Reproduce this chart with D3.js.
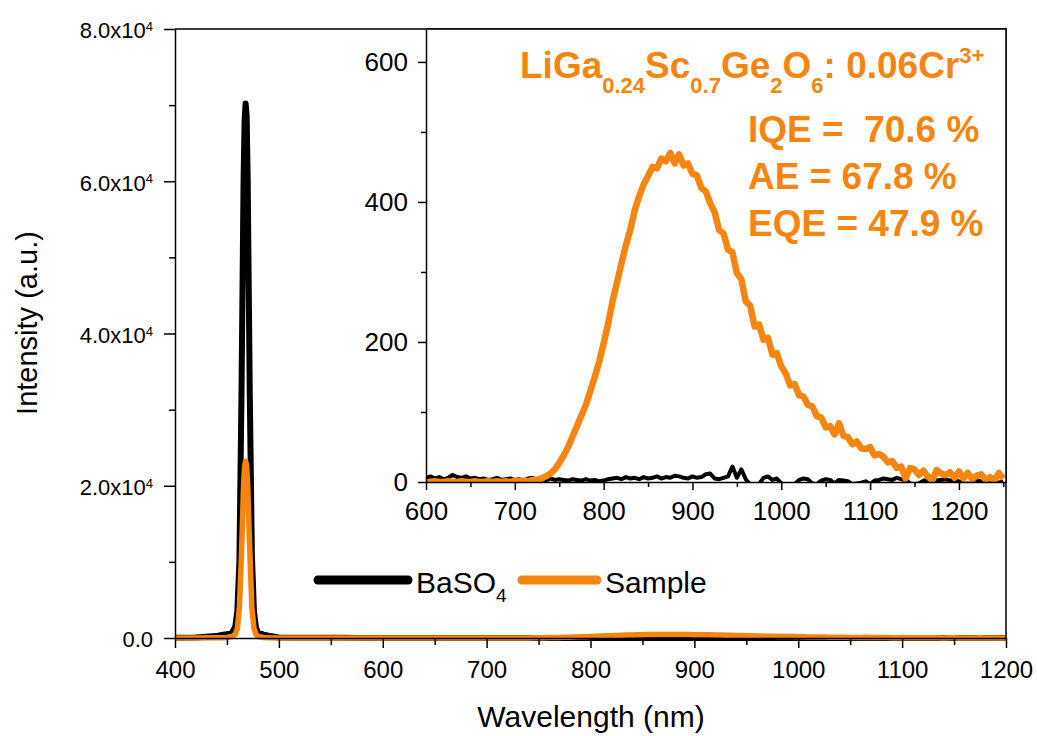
<!DOCTYPE html>
<html>
<head>
<meta charset="utf-8">
<script src="https://d3js.org/d3.v7.min.js"></script>
<style>
  body { margin: 0; background: #fff; }
  svg { display: block; font-family: Arial, "Liberation Sans", sans-serif; }
  .axis path, .axis line { stroke: #000; stroke-width: 1.5; }
</style>
</head>
<body>
<svg width="1037" height="736"></svg>
<script>

// excitation region (BaSO4 reference peak and what the sample leaves of it)
var excWl     = [400, 420, 440, 445, 450, 455, 458, 460, 462, 464, 466, 467, 468, 469, 470, 472, 474, 476, 478, 480, 485, 490, 500, 520, 560, 580];
var excBaso4  = [30, 60, 250, 400, 500, 700, 1500, 3500, 10000, 32000, 60000, 68000, 70200, 68500, 60000, 32000, 11000, 3500, 1300, 700, 450, 300, 60, 30, 20, 10];
var excSample = [0, 0, 20, 40, 80, 200, 500, 1200, 4000, 11000, 20000, 22500, 23200, 22600, 20000, 11500, 4000, 1300, 450, 200, 60, 30, 10, 5, 3, 0];

// emission region, 600-1250 nm every 5 nm
var emWl = [600, 605, 610, 615, 620, 625, 630, 635, 640, 645, 650, 655, 660, 665, 670, 675, 680, 685, 690, 695,
            700, 705, 710, 715, 720, 725, 730, 735, 740, 745, 750, 755, 760, 765, 770, 775, 780, 785, 790, 795,
            800, 805, 810, 815, 820, 825, 830, 835, 840, 845, 850, 855, 860, 865, 870, 875, 880, 885, 890, 895,
            900, 905, 910, 915, 920, 925, 930, 935, 940, 945, 950, 955, 960, 965, 970, 975, 980, 985, 990, 995,
            1000, 1005, 1010, 1015, 1020, 1025, 1030, 1035, 1040, 1045, 1050, 1055, 1060, 1065, 1070, 1075, 1080, 1085, 1090, 1095,
            1100, 1105, 1110, 1115, 1120, 1125, 1130, 1135, 1140, 1145, 1150, 1155, 1160, 1165, 1170, 1175, 1180, 1185, 1190, 1195,
            1200, 1205, 1210, 1215, 1220, 1225, 1230, 1235, 1240, 1245, 1250];
var emSample = [0, 0, 1, 0, 0, 1, 0, 0, 1, 0, 0, 1, 0, 0, 1, 0, 1, 0, 1, 0,
                2, 1, 2, 1, 3, 3, 5, 8, 12, 18, 27, 38, 50, 65, 80, 95, 110, 130, 150, 172,
                198, 226, 258, 285, 312, 338, 360, 388, 408, 425, 437, 450, 448, 462, 458, 470, 455, 468, 452, 455,
                440, 438, 420, 415, 398, 385, 360, 355, 332, 328, 298, 290, 258, 252, 222, 225, 203, 206, 182, 184,
                165, 155, 138, 140, 124, 122, 110, 108, 94, 92, 78, 80, 68, 84, 66, 64, 54, 58, 48, 47,
                50, 38, 40, 36, 28, 30, 20, 22, 5, 20, 18, 10, 16, 8, 2, 17, 12, 10, 14, 6,
                15, 5, 13, 4, 9, 11, 3, 7, 2, 13, 5];
var emBaso4  = [6, 8, 5, 7, 4, 6, 10, 7, 6, 8, 5, 6, 4, 5, 3, 4, 6, 3, 4, 5,
                3, 4, 2, 5, 6, 3, 4, 2, 5, 3, 4, 3, 2, 4, 3, 2, 4, 2, 3, 1,
                2, 4, 5, 6, 4, 7, 5, 6, 4, 7, 5, 6, 8, 5, 7, 6, 9, 8, 6, 5,
                8, 6, 7, 11, 12, 5, 4, 6, 8, 22, 6, 18, 4, -4, -6, -3, 6, 8, 3, 5,
                -2, -4, -5, -3, 3, 5, 4, -2, -3, 2, 4, 3, -2, 3, 2, 1, -3, -2, -1, 1,
                -3, 2, 3, 5, 4, 3, 6, 4, 3, -2, -3, -2, 2, 3, 4, 2, 3, 4, 2, 3,
                1, -3, -2, -3, 2, 1, -2, 1, 2, -1, 1];

var seriesNames  = ["BaSO", "Sample"];
var seriesColors = ["#000000", "#f5850f"];

var mainXTicks  = [400, 500, 600, 700, 800, 900, 1000, 1100, 1200];
var mainYTicks  = [0, 20000, 40000, 60000, 80000];
var insetXTicks = [600, 700, 800, 900, 1000, 1100, 1200];
var insetYTicks = [0, 200, 400, 600];

var annotLines = ["IQE =  70.6 %", "AE = 67.8 %", "EQE = 47.9 %"];

function toPoints(wl, vals) {
    return wl.map(function(w, i) { return {w: w, v: vals[i]}; });
}
var baso4 = toPoints(excWl, excBaso4).concat(toPoints(emWl, emBaso4));
var sample = toPoints(excWl, excSample).concat(toPoints(emWl, emSample));
var series = [baso4, sample];

var svg = d3.select("svg");

// ---------- main panel ----------
var x = d3.scaleLinear().domain([400, 1200]).range([175, 1006]);
var y = d3.scaleLinear().domain([0, 80000]).range([638, 29]);

svg.append("clipPath").attr("id", "mainClip")
    .append("rect").attr("x", 175).attr("y", 0).attr("width", 831).attr("height", 700);

var mainLine = d3.line().x(function(d) { return x(d.w); }).y(function(d) { return y(d.v); });
var mainG = svg.append("g").attr("clip-path", "url(#mainClip)");
mainG.selectAll("path.main")
    .data(series)
    .enter().append("path")
    .attr("d", mainLine)
    .attr("fill", "none")
    .attr("stroke", function(d, i) { return seriesColors[i]; })
    .attr("stroke-width", function(d, i) { return i == 0 ? 6 : 5.5; })
    .attr("stroke-linejoin", "round")
    .attr("stroke-linecap", "round");

// minor ticks
svg.append("g").attr("class", "axis")
    .attr("transform", "translate(0,638)")
    .call(d3.axisBottom(x).tickValues(d3.range(450, 1200, 100)).tickFormat("").tickSize(7).tickSizeOuter(0))
    .select(".domain").remove();
svg.append("g").attr("class", "axis")
    .attr("transform", "translate(175,0)")
    .call(d3.axisLeft(y).tickValues(d3.range(10000, 80000, 20000)).tickFormat("").tickSize(6).tickSizeOuter(0))
    .select(".domain").remove();

var xAxisG = svg.append("g").attr("class", "axis")
    .attr("transform", "translate(0,638)")
    .call(d3.axisBottom(x).tickValues(mainXTicks).tickFormat(d3.format("d")).tickSize(10).tickPadding(13).tickSizeOuter(0));
xAxisG.selectAll("text").style("font-size", "24px").attr("fill", "#000");

var yAxisG = svg.append("g").attr("class", "axis")
    .attr("transform", "translate(175,0)")
    .call(d3.axisLeft(y).tickValues(mainYTicks).tickSize(11).tickPadding(11).tickSizeOuter(0).tickFormat(""));
yAxisG.selectAll(".tick text")
    .style("font-size", "22px").attr("fill", "#000").attr("dy", "0.4em")
    .each(function(d) {
        var t = d3.select(this);
        if (d == 0) { t.text("0.0"); return; }
        t.append("tspan").text((d / 10000).toFixed(1) + "x10");
        t.append("tspan").attr("dy", "-0.55em").style("font-size", "13px").text("4");
    });

// frame
svg.append("path")
    .attr("d", "M175,29H1006V638")
    .attr("fill", "none").attr("stroke", "#000").attr("stroke-width", 1.5);

svg.append("text")
    .attr("transform", "translate(37,323) rotate(-90)")
    .attr("text-anchor", "middle")
    .style("font-size", "29px")
    .text("Intensity (a.u.)");

svg.append("text")
    .attr("x", 591).attr("y", 727)
    .attr("text-anchor", "middle")
    .style("font-size", "30px")
    .text("Wavelength (nm)");

// legend
var legendX = [318, 522];
var legendLen = [90, 75];
var legendTextX = [416, 605];
seriesNames.forEach(function(name, i) {
    svg.append("line")
        .attr("x1", legendX[i]).attr("x2", legendX[i] + legendLen[i])
        .attr("y1", 580).attr("y2", 580)
        .attr("stroke", seriesColors[i]).attr("stroke-width", 9).attr("stroke-linecap", "round");
    var t = svg.append("text").attr("x", legendTextX[i]).attr("y", 593).style("font-size", "30px");
    t.append("tspan").text(name);
    if (i == 0) t.append("tspan").attr("dy", 9).style("font-size", "19px").text("4");
});

// ---------- inset ----------
var xi = d3.scaleLinear().domain([600, 1253]).range([426, 1006]);
var yi = d3.scaleLinear().domain([0, 647]).range([482, 29]);

svg.append("clipPath").attr("id", "insetClip")
    .append("rect").attr("x", 426).attr("y", 29).attr("width", 580).attr("height", 453);

var insetLine = d3.line().x(function(d) { return xi(d.w); }).y(function(d) { return yi(d.v); });
var insetG = svg.append("g").attr("clip-path", "url(#insetClip)");
insetG.append("rect").attr("x", 426).attr("y", 29).attr("width", 580).attr("height", 453).attr("fill", "#fff");
insetG.selectAll("path.inset")
    .data(series)
    .enter().append("path")
    .attr("d", insetLine)
    .attr("fill", "none")
    .attr("stroke", function(d, i) { return seriesColors[i]; })
    .attr("stroke-width", function(d, i) { return i == 0 ? 4 : 6.5; })
    .attr("stroke-linejoin", "round");

svg.append("g").attr("class", "axis")
    .attr("transform", "translate(0,482)")
    .call(d3.axisBottom(xi).tickValues(d3.range(650, 1253, 100)).tickFormat("").tickSize(5).tickSizeOuter(0))
    .select(".domain").remove();
svg.append("g").attr("class", "axis")
    .attr("transform", "translate(426,0)")
    .call(d3.axisLeft(yi).tickValues(d3.range(100, 647, 200)).tickFormat("").tickSize(5).tickSizeOuter(0))
    .select(".domain").remove();

svg.append("g").attr("class", "axis")
    .attr("transform", "translate(0,482)")
    .call(d3.axisBottom(xi).tickValues(insetXTicks).tickFormat(d3.format("d")).tickSize(8).tickPadding(12).tickSizeOuter(0))
    .selectAll("text").style("font-size", "26px").attr("fill", "#000");
svg.append("g").attr("class", "axis")
    .attr("transform", "translate(426,0)")
    .call(d3.axisLeft(yi).tickValues(insetYTicks).tickSize(8).tickPadding(10).tickSizeOuter(0))
    .selectAll("text").style("font-size", "26px").attr("fill", "#000");

svg.append("path")
    .attr("d", "M426,29H1006V482")
    .attr("fill", "none").attr("stroke", "#000").attr("stroke-width", 1.5);

// annotation
var orange = seriesColors[1];
var formula = svg.append("text")
    .attr("x", 520).attr("y", 78)
    .attr("fill", orange)
    .style("font-size", "37px").style("font-weight", "bold");
var parts = [["LiGa", 0], ["0.24", 1], ["Sc", 0], ["0.7", 1], ["Ge", 0], ["2", 1], ["O", 0], ["6", 1], [": 0.06Cr", 0], ["3+", -1]];
var shift = 0;
parts.forEach(function(p) {
    var target = p[1] * 15;
    var ts = formula.append("tspan").attr("dy", target - shift).text(p[0]);
    if (p[1] != 0) ts.style("font-size", "22px");
    shift = target;
});

svg.selectAll("text.stat")
    .data(annotLines)
    .enter().append("text")
    .attr("class", "stat")
    .attr("x", 748)
    .attr("y", function(d, i) { return 142 + i * 47; })
    .attr("fill", orange)
    .style("font-size", "37px").style("font-weight", "bold")
    .style("white-space", "pre")
    .attr("xml:space", "preserve")
    .text(function(d) { return d; });

</script>
</body>
</html>
